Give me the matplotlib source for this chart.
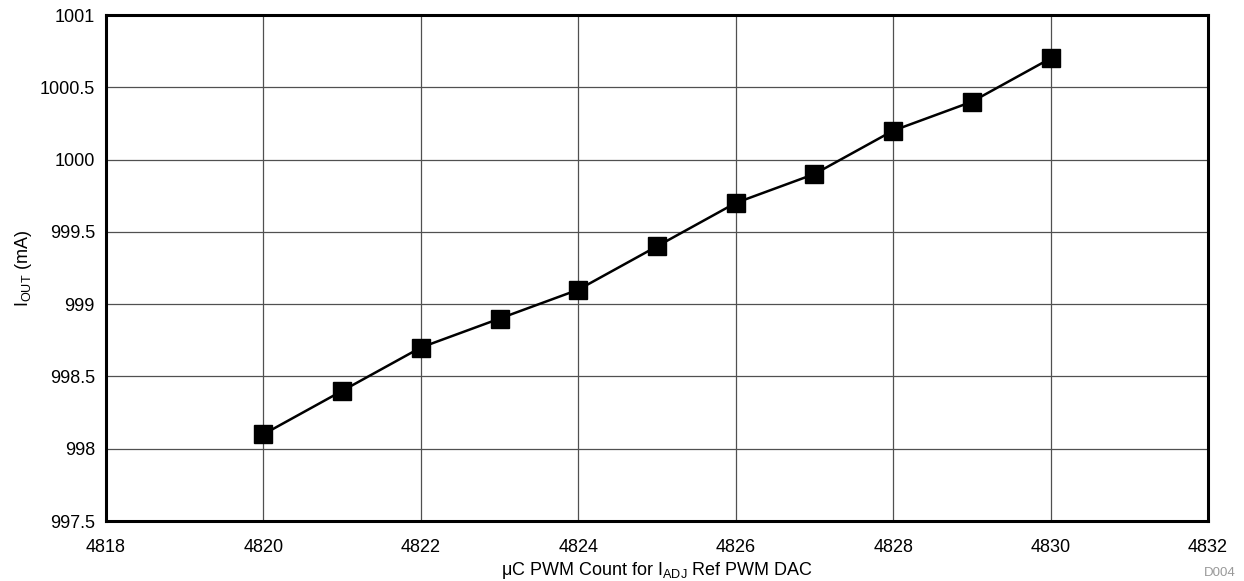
import matplotlib.pyplot as plt

plt.rcParams['font.family'] = ['Liberation Sans', 'DejaVu Sans']

# data
pwm_count = [4820, 4821, 4822, 4823, 4824, 4825, 4826, 4827, 4828, 4829, 4830]
iout_ma = [998.1, 998.4, 998.7, 998.9, 999.1, 999.4, 999.7, 999.9, 1000.2, 1000.4, 1000.7]

xticks = [4818, 4820, 4822, 4824, 4826, 4828, 4830, 4832]
yticks = [997.5, 998, 998.5, 999, 999.5, 1000, 1000.5, 1001]
ytick_labels = ['997.5', '998', '998.5', '999', '999.5', '1000', '1000.5', '1001']

fig = plt.figure(figsize=(12.44, 5.81), dpi=100)
ax = fig.add_axes([106 / 1244, 1 - 521 / 581, (1208 - 106) / 1244, (521 - 15) / 581])

ax.plot(pwm_count, iout_ma, color='black', lw=1.8, marker='s', markersize=13,
        markerfacecolor='black', markeredgecolor='black', zorder=3)

ax.set_xlim(4818, 4832)
ax.set_ylim(997.5, 1001)
ax.set_xticks(xticks)
ax.set_yticks(yticks)
ax.set_yticklabels(ytick_labels)
ax.tick_params(length=0, labelsize=13)
ax.tick_params(axis='y', pad=8)
ax.tick_params(axis='x', pad=13)
ax.grid(True, color='#505050', lw=0.9)
ax.set_axisbelow(True)
for s in ax.spines.values():
    s.set_linewidth(2.2)

ax.set_xlabel('\u03bcC PWM Count for I$_{\\mathregular{ADJ}}$ Ref PWM DAC', fontsize=13, labelpad=3)
ax.set_ylabel('I$_{\\mathregular{OUT}}$ (mA)', fontsize=13, labelpad=4)

fig.text(1236 / 1244, 1 - 573 / 581, 'D004', fontsize=9.5, color='#999999', ha='right', va='center')

fig.savefig('out.png', dpi=100)
